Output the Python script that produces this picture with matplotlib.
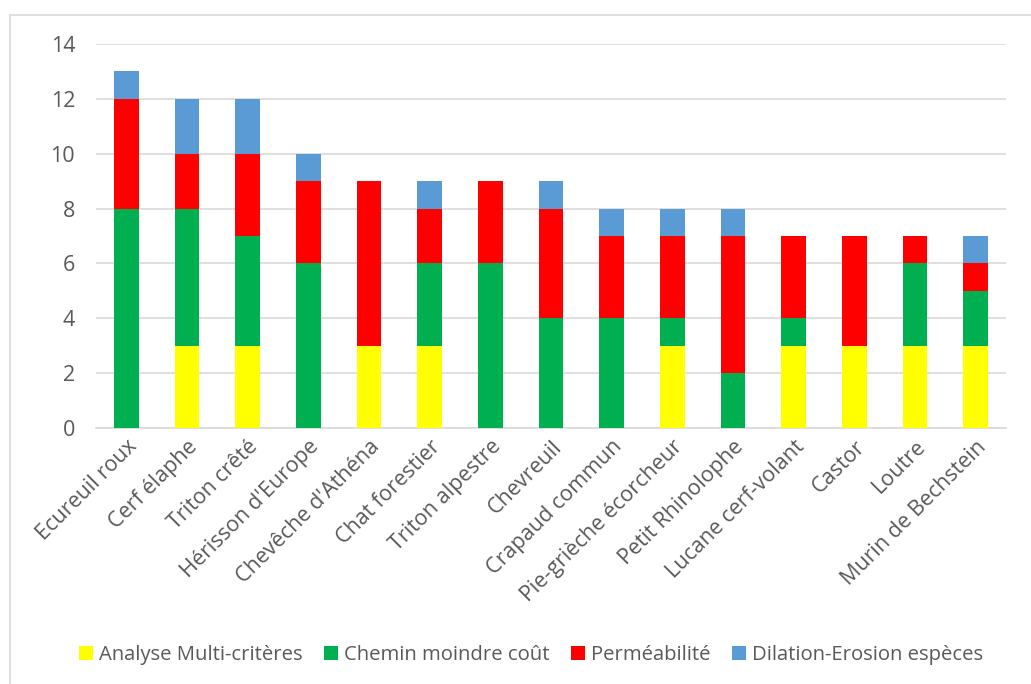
import matplotlib
matplotlib.use('Agg')
import matplotlib.pyplot as plt
import numpy as np
from matplotlib.patches import Rectangle

especes = ['Ecureuil roux', 'Cerf élaphe', 'Triton crêté', "Hérisson d'Europe",
           "Chevêche d'Athéna", 'Chat forestier', 'Triton alpestre', 'Chevreuil',
           'Crapaud commun', 'Pie-grièche écorcheur', 'Petit Rhinolophe',
           'Lucane cerf-volant', 'Castor', 'Loutre', 'Murin de Bechstein']
analyse = [0, 3, 3, 0, 3, 3, 0, 0, 0, 3, 0, 3, 3, 3, 3]
chemin = [8, 5, 4, 6, 0, 3, 6, 4, 4, 1, 2, 1, 0, 3, 2]
permea = [4, 2, 3, 3, 6, 2, 3, 4, 3, 3, 5, 3, 4, 1, 1]
dilation = [1, 2, 2, 1, 0, 1, 0, 1, 1, 1, 1, 0, 0, 0, 1]
series = ['Analyse Multi-critères', 'Chemin moindre coût', 'Perméabilité', 'Dilation-Erosion espèces']
couleurs = ['#FFFF00', '#00B050', '#FF0000', '#5B9BD5']

plt.rcParams['font.family'] = ['Open Sans', 'DejaVu Sans']
gris = '#595959'

fig = plt.figure(figsize=(10.31, 6.84), dpi=100)
ax = fig.add_axes([0.0931, 0.3743, 0.8826, 0.5614])

x = np.arange(len(especes))
bas = np.zeros(len(especes))
for vals, nom, c in zip([analyse, chemin, permea, dilation], series, couleurs):
	ax.bar(x, vals, 0.41, bottom=bas, color=c, label=nom, zorder=3)
	bas += np.array(vals)

ax.set_xlim(-0.5, len(especes) - 0.5)
ax.set_ylim(0, 14)
ax.set_yticks(range(0, 15, 2))
ax.grid(axis='y', color='#D9D9D9', linewidth=1.2, zorder=0)
for s in ['top', 'right', 'left']:
	ax.spines[s].set_visible(False)
ax.spines['bottom'].set_color('#D9D9D9')
ax.spines['bottom'].set_linewidth(1.2)
ax.tick_params(axis='both', length=0, colors=gris, labelsize=15.5)
ax.tick_params(axis='y', pad=15)
ax.tick_params(axis='x', pad=6)
ax.set_xticks(x)
ax.set_xticklabels(especes, rotation=45, ha='right', rotation_mode='anchor')

leg = fig.legend(loc='center', bbox_to_anchor=(0.515, 0.042), ncol=4, frameon=False,
                 fontsize=14.6, handlelength=0.7, handleheight=0.7, handletextpad=0.3,
                 columnspacing=1.05)
for t in leg.get_texts():
	t.set_color(gris)

fig.patches.append(Rectangle((10 / 1031, -0.01), 1.02, 1 - 15 / 684 + 0.01,
                             transform=fig.transFigure, fill=False,
                             edgecolor='#D9D9D9', linewidth=1.2))

fig.savefig('out.png', dpi=100)
